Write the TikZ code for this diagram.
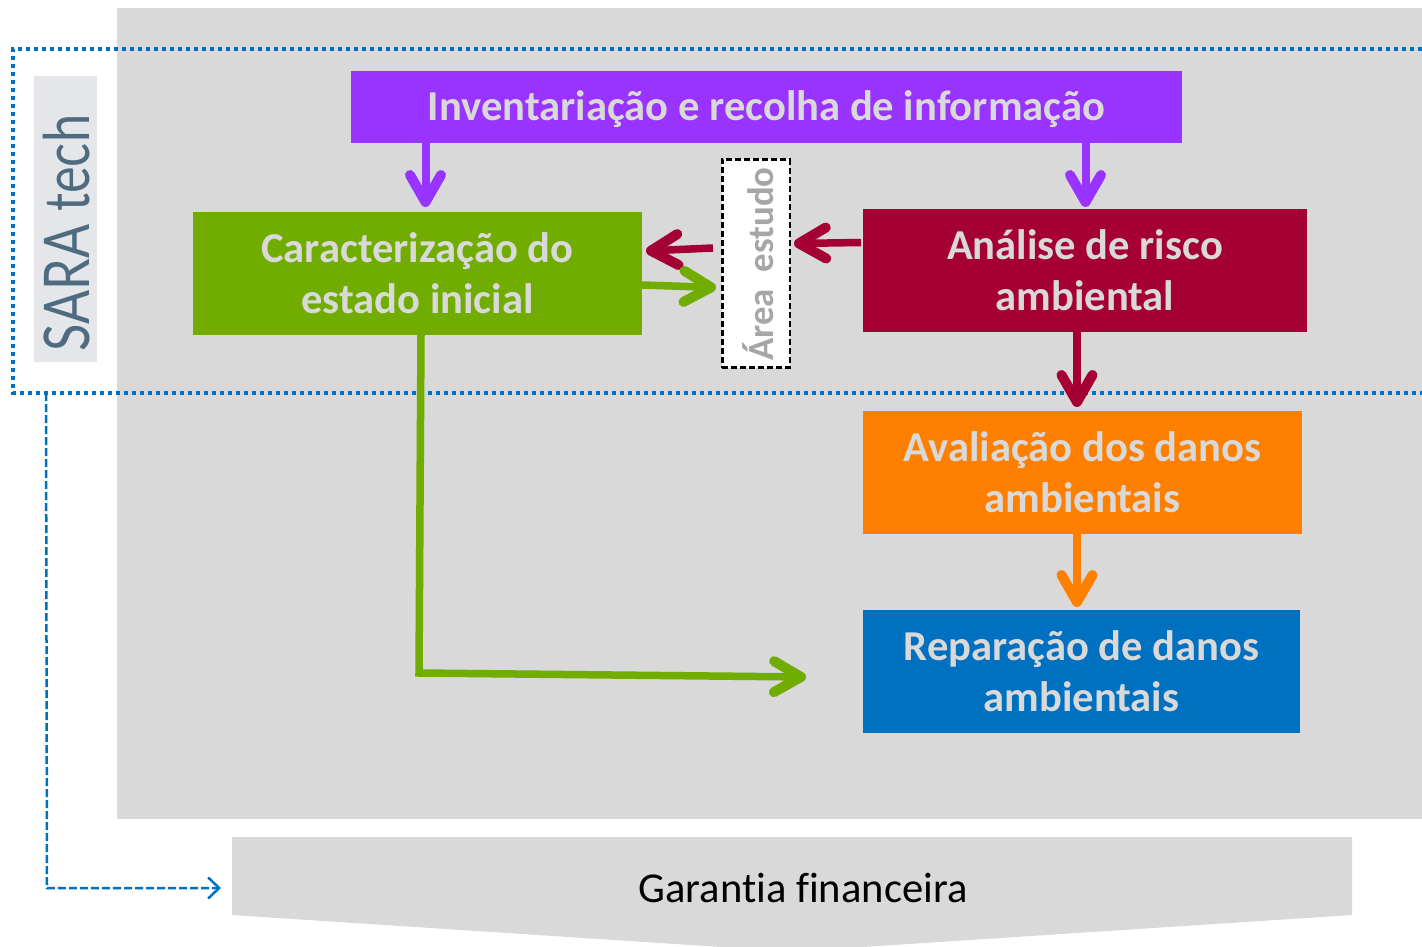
\documentclass[tikz,border=0pt]{standalone}
\usepackage{fontspec}
\setmainfont[Ligatures=NoCommon]{Carlito}
\newfontfamily\logofont[FakeStretch=0.8]{Lato}
\usetikzlibrary{arrows.meta,calc}
\definecolor{panelgray}{HTML}{D9D9D9}
\definecolor{boxtext}{HTML}{D9D9D9}
\definecolor{cpurple}{HTML}{9933FF}
\definecolor{cgreen}{HTML}{70AD00}
\definecolor{ccrimson}{HTML}{A50034}
\definecolor{corange}{HTML}{FF8000}
\definecolor{cblue}{HTML}{0070C0}
\definecolor{logobg}{HTML}{E4E6EA}
\definecolor{logoink}{HTML}{4F6B7F}
\tikzset{
  x=1pt,y=-1pt,
  stagebox/.style={draw=none,inner sep=0pt,text=boxtext,align=center,
    font=\fontsize{42.6}{51}\selectfont\bfseries},
  flowarrow/.style={line width=#1,-{Straight Barb[length=27pt,width=31pt,round,line width=10pt]},line join=miter},
  framedots/.style={draw=cblue,line width=4pt,dash pattern=on 4pt off 4pt},
  linkdash/.style={draw=cblue,line width=2.5pt,dash pattern=on 8pt off 3pt,
    -{Straight Barb[length=11pt,width=21pt,line width=2.5pt]}},
}
\begin{document}
\begin{tikzpicture}
\useasboundingbox (0,0) rectangle (1422,947);
% panel and logo
\node[fill=panelgray,inner sep=0pt,minimum width=1305pt,minimum height=811pt,anchor=north west] (panel) at (117,8) {};
\node[fill=logobg,inner sep=0pt,minimum width=63pt,minimum height=286pt,anchor=north west] (logo) at (34,76) {};
\node[rotate=90,text=logoink,font=\fontsize{63}{63}\selectfont\logofont,inner sep=0pt] (logotext) at (67,233) {SARA tech};
% frame
\coordinate (fne) at (1422,49);
\coordinate (fnw) at (13,49);
\coordinate (fsw) at (13,393);
\coordinate (fse) at (1422,393);
\draw[framedots] (fne) -- (fnw) -- (fsw) -- (fse);
% boxes
\node[stagebox,fill=cpurple,minimum width=831pt,minimum height=72pt,text height=36pt,text depth=8pt] (inv) at (766.5,107) {Inventariação e recolha de informação};
\node[stagebox,fill=cgreen,minimum width=449pt,minimum height=123pt] (car) at (417.5,273.5) {Caracterização do\\estado inicial};
\node[stagebox,fill=ccrimson,minimum width=444pt,minimum height=123pt] (ana) at (1085,270.5) {Análise de risco\\ambiental};
\node[stagebox,fill=corange,minimum width=439pt,minimum height=123pt] (ava) at (1082.5,472.5) {Avaliação dos danos\\ambientais};
\node[stagebox,fill=cblue,minimum width=437pt,minimum height=123pt] (rep) at (1081.5,671.5) {Reparação de danos\\ambientais};
\node[draw=black,fill=white,line width=2.5pt,dash pattern=on 6pt off 3pt,inner sep=0pt,minimum width=67.5pt,minimum height=208pt] (area) at (756,263.5) {};
\node[rotate=90,text=black!35,font=\fontsize{36.8}{36.8}\selectfont\bfseries,inner sep=0pt] (areatext) at (758,264) {Área\hspace{0.45em}estudo};
% bottom shape
\path[fill=panelgray] (232,837) -- (1352,837) -- (1352,915) -- (863,947) -- (721,947) -- (232,915) -- cycle;
\node[inner sep=0pt,font=\fontsize{42.6}{46}\selectfont,text=black] (gar) at (803,888) {Garantia financeira};
\coordinate (garleft) at (221,888);
% arrows
\coordinate (t1) at (425.5,207);
\coordinate (t2) at (1085.5,207);
\draw[flowarrow=8pt,cpurple] (inv.south -| t1) -- (t1);
\draw[flowarrow=8pt,cpurple] (inv.south -| t2) -- (t2);
\coordinate (t3) at (794,243.5);
\coordinate (s3) at (861,242.5);
\draw[flowarrow=7.5pt,ccrimson] (s3) -- (t3);
\coordinate (s4) at (713,248);
\coordinate (t4) at (646,251);
\draw[flowarrow=7.5pt,ccrimson] (s4) -- (t4);
\coordinate (s5) at (642,285);
\coordinate (t5) at (716,287.5);
\draw[flowarrow=7.5pt,cgreen] (s5) -- (t5);
\coordinate (t6) at (1077,407);
\draw[flowarrow=8pt,ccrimson] (ana.south -| t6) -- (t6);
\coordinate (t7) at (1077,607);
\draw[flowarrow=8pt,corange] (ava.south -| t7) -- (t7);
\coordinate (s8) at (421,335);
\coordinate (m8) at (419,673);
\coordinate (t8) at (806,677);
\draw[flowarrow=7.5pt,cgreen] (s8) -- (m8) -- (t8);
\coordinate (s9) at (46,393);
\coordinate (m9) at (47,888);
\draw[linkdash] (s9) -- (m9) -- (garleft);
\end{tikzpicture}
\end{document}
